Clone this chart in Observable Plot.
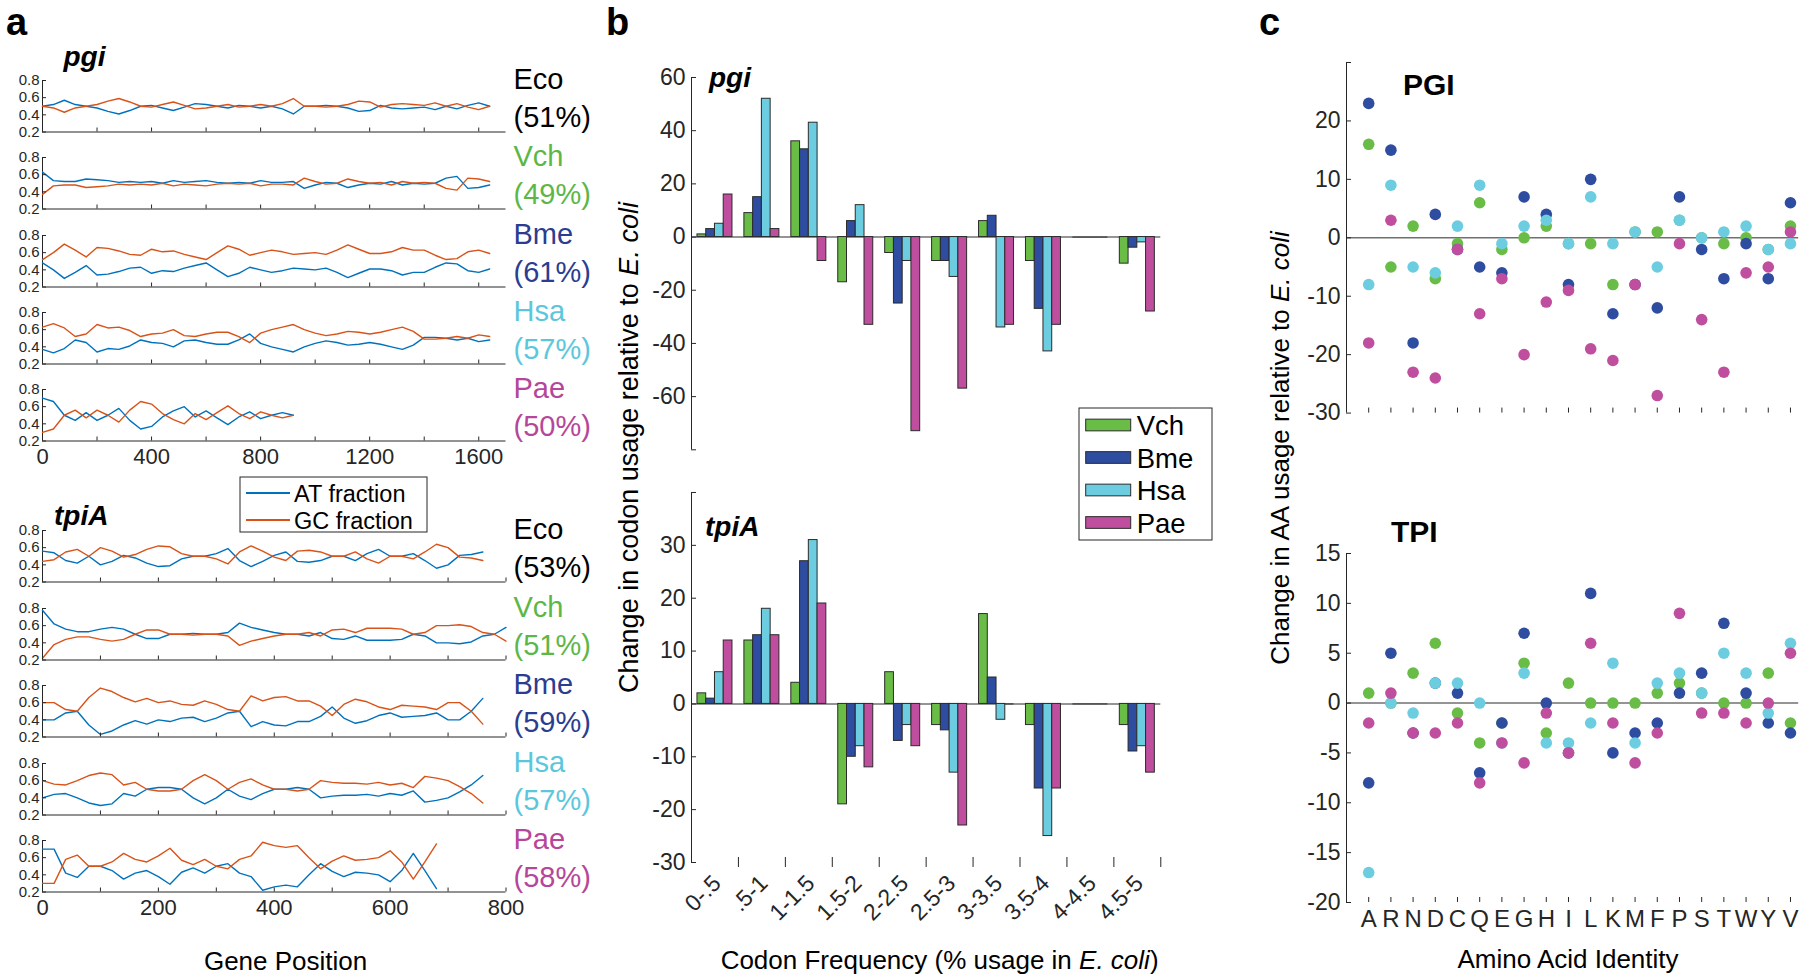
<!DOCTYPE html>
<html>
<head>
<meta charset="utf-8">
<script src="https://cdn.jsdelivr.net/npm/d3@7"></script>
<script src="https://cdn.jsdelivr.net/npm/@observablehq/plot@0.6"></script>
<style>
html,body{margin:0;padding:0;background:#fff;}
#fig{position:relative;width:1800px;height:980px;overflow:hidden;background:#fff;}
#fig svg{position:absolute;overflow:visible;}
</style>
</head>
<body>
<div id="fig"></div>
<script>
// ---------------- DATA ----------------
// Panel a: sliding-window GC fraction along each gene (AT fraction = 1 - GC)
const stripSpecies = ["Eco", "Vch", "Bme", "Hsa", "Pae"];
const pgiStep = 40;   // gene-position spacing of the samples below
const tpiStep = 20;
const pgiGC_Eco = [0.50,0.48,0.43,0.48,0.50,0.52,0.56,0.59,0.55,0.50,0.49,0.52,0.55,0.51,0.47,0.48,0.50,0.52,0.49,0.50,0.52,0.50,0.53,0.59,0.50,0.50,0.49,0.50,0.52,0.56,0.55,0.49,0.52,0.53,0.52,0.51,0.54,0.50,0.53,0.49,0.46,0.50];
const pgiGC_Vch = [0.37,0.47,0.48,0.48,0.45,0.46,0.47,0.49,0.48,0.49,0.48,0.50,0.47,0.49,0.48,0.47,0.49,0.50,0.49,0.50,0.47,0.49,0.49,0.48,0.56,0.52,0.49,0.50,0.55,0.52,0.50,0.51,0.48,0.52,0.50,0.51,0.50,0.44,0.42,0.56,0.55,0.52];
const pgiGC_Bme = [0.52,0.60,0.70,0.63,0.55,0.66,0.65,0.62,0.58,0.57,0.64,0.61,0.62,0.58,0.55,0.52,0.60,0.68,0.64,0.57,0.60,0.63,0.61,0.58,0.59,0.60,0.58,0.63,0.69,0.64,0.59,0.59,0.61,0.66,0.63,0.63,0.57,0.52,0.53,0.61,0.63,0.59];
const pgiGC_Hsa = [0.63,0.67,0.62,0.52,0.55,0.66,0.62,0.63,0.59,0.52,0.55,0.56,0.60,0.53,0.52,0.55,0.57,0.57,0.52,0.45,0.56,0.60,0.63,0.66,0.60,0.56,0.53,0.55,0.58,0.57,0.55,0.57,0.60,0.63,0.58,0.49,0.49,0.50,0.52,0.50,0.54,0.52];
const pgiGC_Pae = [0.30,0.34,0.50,0.56,0.47,0.56,0.50,0.42,0.56,0.66,0.63,0.52,0.45,0.40,0.52,0.45,0.53,0.61,0.52,0.46,0.54,0.50,0.47,0.50];
const tpiGC_Eco = [0.44,0.46,0.55,0.58,0.50,0.60,0.56,0.49,0.52,0.58,0.62,0.61,0.53,0.50,0.50,0.47,0.41,0.55,0.62,0.56,0.49,0.45,0.56,0.57,0.55,0.50,0.50,0.55,0.47,0.42,0.50,0.50,0.47,0.55,0.64,0.60,0.49,0.48,0.45];
const tpiGC_Vch = [0.22,0.38,0.44,0.47,0.47,0.44,0.42,0.44,0.50,0.55,0.55,0.50,0.50,0.49,0.50,0.50,0.48,0.37,0.42,0.45,0.48,0.50,0.50,0.52,0.48,0.55,0.56,0.52,0.57,0.57,0.57,0.56,0.50,0.52,0.60,0.60,0.61,0.59,0.52,0.50,0.42];
const tpiGC_Bme = [0.60,0.60,0.52,0.50,0.66,0.77,0.73,0.66,0.61,0.65,0.60,0.62,0.58,0.57,0.62,0.58,0.52,0.50,0.68,0.62,0.66,0.67,0.62,0.62,0.56,0.45,0.58,0.64,0.61,0.55,0.52,0.57,0.56,0.55,0.52,0.60,0.60,0.50,0.35];
const tpiGC_Hsa = [0.60,0.56,0.55,0.60,0.66,0.69,0.67,0.55,0.58,0.50,0.48,0.48,0.50,0.60,0.67,0.60,0.50,0.58,0.62,0.55,0.50,0.50,0.48,0.50,0.60,0.58,0.57,0.57,0.56,0.58,0.55,0.57,0.52,0.65,0.63,0.60,0.53,0.45,0.34];
const tpiGC_Pae = [0.30,0.30,0.58,0.63,0.50,0.50,0.55,0.65,0.58,0.55,0.62,0.71,0.57,0.52,0.58,0.50,0.47,0.58,0.62,0.78,0.74,0.72,0.74,0.60,0.47,0.56,0.62,0.57,0.58,0.60,0.68,0.55,0.35,0.55,0.76];
const pgiGCpct = ["51%", "49%", "61%", "57%", "50%"];
const tpiGCpct = ["53%", "51%", "59%", "57%", "58%"];
const stripYTicks = [0.2, 0.4, 0.6, 0.8];
const pgiXTicks = [0, 200, 400, 600, 800, 1000, 1200, 1400, 1600];
const pgiXLabels = [0, 400, 800, 1200, 1600];
const tpiXTicks = [0, 100, 200, 300, 400, 500, 600, 700, 800];
const tpiXLabels = [0, 200, 400, 600, 800];

// Panel b: change in codon usage relative to E. coli, by codon-frequency bin
const codonBins = ["0-.5", ".5-1", "1-1.5", "1.5-2", "2-2.5", "2.5-3", "3-3.5", "3.5-4", "4-4.5", "4.5-5"];
const compSpecies = ["Vch", "Bme", "Hsa", "Pae"];
const pgiCodon_Vch = [1, 9, 36, -17, -6, -9, 6, -9, 0, -10];
const pgiCodon_Bme = [3, 15, 33, 6, -25, -9, 8, -27, 0, -4];
const pgiCodon_Hsa = [5, 52, 43, 12, -9, -15, -34, -43, 0, -2];
const pgiCodon_Pae = [16, 3, -9, -33, -73, -57, -33, -33, 0, -28];
const tpiCodon_Vch = [2, 12, 4, -19, 6, -4, 17, -4, 0, -4];
const tpiCodon_Bme = [1, 13, 27, -10, -7, -5, 5, -16, 0, -9];
const tpiCodon_Hsa = [6, 18, 31, -8, -4, -13, -3, -25, 0, -8];
const tpiCodon_Pae = [12, 13, 19, -12, -8, -23, 0, -16, 0, -13];
const pgiCodonTicks = [60, 40, 20, 0, -20, -40, -60, -80];
const pgiCodonLabels = [60, 40, 20, 0, -20, -40, -60];
const tpiCodonTicks = [40, 30, 20, 10, 0, -10, -20, -30];
const tpiCodonLabels = [30, 20, 10, 0, -10, -20, -30];

// Panel c: change in amino-acid usage relative to E. coli
const aminoAcids = ["A","R","N","D","C","Q","E","G","H","I","L","K","M","F","P","S","T","W","Y","V"];
const pgiAA_Vch = [16, -5, 2, -7, -1, 6, -2, 0, 2, -1, -1, -8, 1, 1, 3, 0, -1, 0, -2, 2];
const pgiAA_Bme = [23, 15, -18, 4, -2, -5, -6, 7, 4, -8, 10, -13, -8, -12, 7, -2, -7, -1, -7, 6];
const pgiAA_Hsa = [-8, 9, -5, -6, 2, 9, -1, 2, 3, -1, 7, -1, 1, -5, 3, 0, 1, 2, -2, -1];
const pgiAA_Pae = [-18, 3, -23, -24, -2, -13, -7, -20, -11, -9, -19, -21, -8, -27, -1, -14, -23, -6, -5, 1];
const tpiAA_Vch = [1, 0, 3, 6, -1, -4, -2, 4, -3, 2, 0, 0, 0, 1, 2, 1, 0, 0, 3, -2];
const tpiAA_Bme = [-8, 5, -3, 2, 1, -7, -2, 7, 0, -5, 11, -5, -3, -2, 1, 3, 8, 1, -2, -3];
const tpiAA_Hsa = [-17, 0, -1, 2, 2, 0, -4, 3, -4, -4, -2, 4, -4, 2, 3, 1, 5, 3, -1, 6];
const tpiAA_Pae = [-2, 1, -3, -3, -2, -8, -4, -6, -1, -5, 6, -2, -6, -3, 9, -1, -1, -2, 0, 5];
const pgiAATicks = [30, 20, 10, 0, -10, -20, -30];
const pgiAALabels = [20, 10, 0, -10, -20, -30];
const tpiAATicks = [15, 10, 5, 0, -5, -10, -15, -20];
const tpiAALabels = [15, 10, 5, 0, -5, -10, -15, -20];

// ---------------- STYLE ----------------
const FONT = '"Liberation Sans", Arial, Helvetica, sans-serif';
const AX = "#262626";
const AT_COLOR = "#0072bd", GC_COLOR = "#d95319";
const compColors = ["#69bd46", "#2e4ca0", "#6ccde0", "#bf4e9f"];
const labelColors = {Eco: "#000000", Vch: "#5cb746", Bme: "#2a3d91", Hsa: "#5cc7dc", Pae: "#b6469a"};

const fig = document.getElementById("fig");

function framed(frame, pad, spec) {
  const w = frame.x1 - frame.x0, h = frame.y1 - frame.y0;
  const svg = Plot.plot({
    width: w + pad.l + pad.r, height: h + pad.t + pad.b,
    marginLeft: pad.l, marginRight: pad.r, marginTop: pad.t, marginBottom: pad.b,
    style: {fontFamily: FONT, fontSize: "19px", color: AX, background: "transparent", overflow: "visible"},
    ...spec
  });
  svg.style.left = (frame.x0 - pad.l) + "px";
  svg.style.top = (frame.y0 - pad.t) + "px";
  fig.appendChild(svg);
  return svg;
}

// ---------------- PANEL a ----------------
function geneStrip(gc, step, xmax, ticks, labelled, showLabels, top) {
  const rows = gc.map((v, i) => ({pos: i * step, gc: v, at: 1 - v}));
  framed({x0: 41.5, x1: 505, y0: top, y1: top + 51.5}, {l: 45, r: 6, t: 6, b: showLabels ? 36 : 6}, {
    x: {domain: [0, xmax]},
    y: {domain: [0.2, 0.8]},
    marks: [
      Plot.ruleY([0.2], {stroke: AX, strokeWidth: 1}),
      Plot.ruleX([0], {y1: 0.2, y2: 0.8, stroke: AX, strokeWidth: 1}),
      Plot.lineY(rows, {x: "pos", y: "at", stroke: AT_COLOR, strokeWidth: 1.4}),
      Plot.lineY(rows, {x: "pos", y: "gc", stroke: GC_COLOR, strokeWidth: 1.4}),
      Plot.axisY(stripYTicks, {tickSize: -4, tickPadding: 7, tickFormat: d => d.toFixed(1), fontSize: 15, label: null}),
      Plot.axisX(ticks, {tickSize: -4, tickPadding: 11, tickFormat: d => (showLabels && labelled.includes(d)) ? String(d) : "", fontSize: 22, label: null})
    ]
  });
}
const pgiStrips = [pgiGC_Eco, pgiGC_Vch, pgiGC_Bme, pgiGC_Hsa, pgiGC_Pae];
const tpiStrips = [tpiGC_Eco, tpiGC_Vch, tpiGC_Bme, tpiGC_Hsa, tpiGC_Pae];
const pgiTops = stripSpecies.map((s, k) => 80 + k * 77.3);
const tpiTops = stripSpecies.map((s, k) => 530 + k * 77.5);
pgiStrips.forEach((gc, k) => geneStrip(gc, pgiStep, 1700, pgiXTicks, pgiXLabels, k === 4, pgiTops[k]));
tpiStrips.forEach((gc, k) => geneStrip(gc, tpiStep, 800, tpiXTicks, tpiXLabels, k === 4, tpiTops[k]));

// ---------------- PANEL b ----------------
function codonPanel(vals, yDomain, yTicks, yLabels, top, bottom, withBottom) {
  const rows = [];
  compSpecies.forEach((s, j) => vals[j].forEach((v, i) => rows.push({i, j, s, v})));
  const gw = 0.746, bw = gw / compSpecies.length;
  const xa = d => d.i - gw / 2 + d.j * bw, xb = d => d.i - gw / 2 + (d.j + 1) * bw;
  const marks = [
    Plot.ruleY([0], {stroke: "#707070", strokeWidth: 1.5}),
    Plot.rect(rows, {x1: xa, x2: xb, y1: () => 0, y2: "v", fill: "s", stroke: "#2b2b2b", strokeWidth: 1}),
    Plot.ruleY(rows.filter(d => d.v === 0), {x1: xa, x2: xb, y: "v", stroke: "#2b2b2b", strokeWidth: 1}),
    Plot.ruleX([-0.5], {y1: yDomain[0], y2: yDomain[1], stroke: AX, strokeWidth: 1}),
    Plot.axisY(yTicks, {tickSize: -5, tickPadding: 11, tickFormat: d => yLabels.includes(d) ? String(d) : "", fontSize: 23, label: null})
  ];
  if (withBottom) {
    marks.push(
      Plot.axisX(codonBins.map((d, i) => i + 0.5), {tickSize: -10, dy: 5, tickFormat: () => "", label: null}),
      Plot.text(codonBins, {x: (d, i) => i, frameAnchor: "bottom", text: d => d, rotate: -45, textAnchor: "end", lineAnchor: "middle", dy: 17, dx: 2, fontSize: 23, fill: AX})
    );
  }
  framed({x0: 691.4, x1: 1160.7, y0: top, y1: bottom}, {l: 75, r: 6, t: 8, b: withBottom ? 70 : 8}, {
    x: {domain: [-0.5, 9.5], axis: withBottom ? undefined : null},
    y: {domain: yDomain},
    color: {domain: compSpecies, range: compColors},
    marks
  });
}
codonPanel([pgiCodon_Vch, pgiCodon_Bme, pgiCodon_Hsa, pgiCodon_Pae], [-80, 60], pgiCodonTicks, pgiCodonLabels, 76.7, 449, false);
codonPanel([tpiCodon_Vch, tpiCodon_Bme, tpiCodon_Hsa, tpiCodon_Pae], [-30, 40], tpiCodonTicks, tpiCodonLabels, 491.5, 861.5, true);

// ---------------- PANEL c ----------------
function aaPanel(vals, yDomain, yTicks, yLabels, top, bottom, showLetters) {
  const rows = [];
  compSpecies.forEach((s, j) => vals[j].forEach((v, i) => rows.push({k: i + 1, s, v})));
  framed({x0: 1345.8, x1: 1798, y0: top, y1: bottom}, {l: 75, r: 2, t: 8, b: showLetters ? 36 : 8}, {
    x: {domain: [0, 20.37]},
    y: {domain: yDomain},
    color: {domain: compSpecies, range: compColors},
    marks: [
      Plot.ruleY([0], {stroke: "#707070", strokeWidth: 1.5}),
      Plot.ruleX([0], {y1: yDomain[0], y2: yDomain[1], stroke: AX, strokeWidth: 1}),
      Plot.dot(rows, {x: "k", y: "v", fill: "s", r: 5.8}),
      Plot.axisY(yTicks, {tickSize: -5, tickPadding: 11, tickFormat: d => yLabels.includes(d) ? String(d) : "", fontSize: 23, label: null}),
      Plot.axisX(aminoAcids.map((d, i) => i + 1), {tickSize: -5, tickPadding: 12, tickFormat: k => showLetters ? aminoAcids[k - 1] : "", fontSize: 24, label: null})
    ]
  });
}
aaPanel([pgiAA_Vch, pgiAA_Bme, pgiAA_Hsa, pgiAA_Pae], [-30, 30], pgiAATicks, pgiAALabels, 61.7, 412.3, false);
aaPanel([tpiAA_Vch, tpiAA_Bme, tpiAA_Hsa, tpiAA_Pae], [-20, 15], tpiAATicks, tpiAALabels, 552.7, 901.7, true);

// ---------------- ANNOTATIONS (text, legends) ----------------
const ov = d3.select(fig).append("svg")
  .attr("width", 1800).attr("height", 980)
  .style("left", "0px").style("top", "0px")
  .style("font-family", FONT);

function txt(x, y, s, o = {}) {
  const t = ov.append("text").attr("x", x).attr("y", y)
    .attr("font-size", o.size || 26).attr("fill", o.color || "#000");
  if (o.weight) t.attr("font-weight", o.weight);
  if (o.italic) t.attr("font-style", "italic");
  if (o.anchor) t.attr("text-anchor", o.anchor);
  if (o.rotate) t.attr("transform", `rotate(${o.rotate},${x},${y})`);
  if (Array.isArray(s)) {
    s.forEach(part => {
      const sp = t.append("tspan").text(part.t);
      if (part.i) sp.attr("font-style", "italic");
    });
  } else t.text(s);
  return t;
}

// panel letters
txt(6, 35, "a", {size: 38, weight: "bold"});
txt(606, 35, "b", {size: 38, weight: "bold"});
txt(1259, 35, "c", {size: 38, weight: "bold"});

// panel a titles and species labels
txt(63.5, 66, "pgi", {size: 28, weight: "bold", italic: true});
txt(54, 525, "tpiA", {size: 28, weight: "bold", italic: true});
stripSpecies.forEach((s, k) => {
  txt(513.5, pgiTops[k] + 9, s, {size: 29, color: labelColors[s]});
  txt(513.5, pgiTops[k] + 47, "(" + pgiGCpct[k] + ")", {size: 29, color: labelColors[s]});
  txt(513.5, tpiTops[k] + 9, s, {size: 29, color: labelColors[s]});
  txt(513.5, tpiTops[k] + 47, "(" + tpiGCpct[k] + ")", {size: 29, color: labelColors[s]});
});

// panel a legend
const legA = [{name: "AT fraction", color: AT_COLOR}, {name: "GC fraction", color: GC_COLOR}];
ov.append("rect").attr("x", 240).attr("y", 477).attr("width", 187).attr("height", 55)
  .attr("fill", "#fff").attr("stroke", AX).attr("stroke-width", 1);
legA.forEach((e, k) => {
  const cy = 493 + k * 27;
  ov.append("line").attr("x1", 246).attr("x2", 290).attr("y1", cy).attr("y2", cy)
    .attr("stroke", e.color).attr("stroke-width", 2);
  txt(294, cy + 9, e.name, {size: 23.5});
});

// axis titles
txt(285.6, 970, "Gene Position", {size: 26, anchor: "middle"});
txt(939.6, 969, [{t: "Codon Frequency (% usage in "}, {t: "E. coli", i: true}, {t: ")"}], {size: 26, anchor: "middle"});
txt(1568, 968, "Amino Acid Identity", {size: 26, anchor: "middle"});
txt(638, 447.5, [{t: "Change in codon usage relative to "}, {t: "E. coli", i: true}], {size: 27, anchor: "middle", rotate: -90});
txt(1289, 448, [{t: "Change in AA usage relative to "}, {t: "E. coli", i: true}], {size: 26, anchor: "middle", rotate: -90});

// panel b gene titles
txt(709, 87, "pgi", {size: 28, weight: "bold", italic: true});
txt(705, 536, "tpiA", {size: 28, weight: "bold", italic: true});

// panel c protein titles
txt(1403, 95, "PGI", {size: 30, weight: "bold"});
txt(1391, 541.7, "TPI", {size: 30, weight: "bold"});

// panel b legend
ov.append("rect").attr("x", 1079).attr("y", 408).attr("width", 133).attr("height", 132)
  .attr("fill", "#fff").attr("stroke", AX).attr("stroke-width", 1);
compSpecies.forEach((s, k) => {
  const cy = 425 + k * 32.5;
  ov.append("rect").attr("x", 1085.7).attr("y", cy - 5.85).attr("width", 45).attr("height", 11.7)
    .attr("fill", compColors[k]).attr("stroke", "#2b2b2b").attr("stroke-width", 1);
  txt(1136.7, cy + 10, s, {size: 27.5});
});
</script>
</body>
</html>
